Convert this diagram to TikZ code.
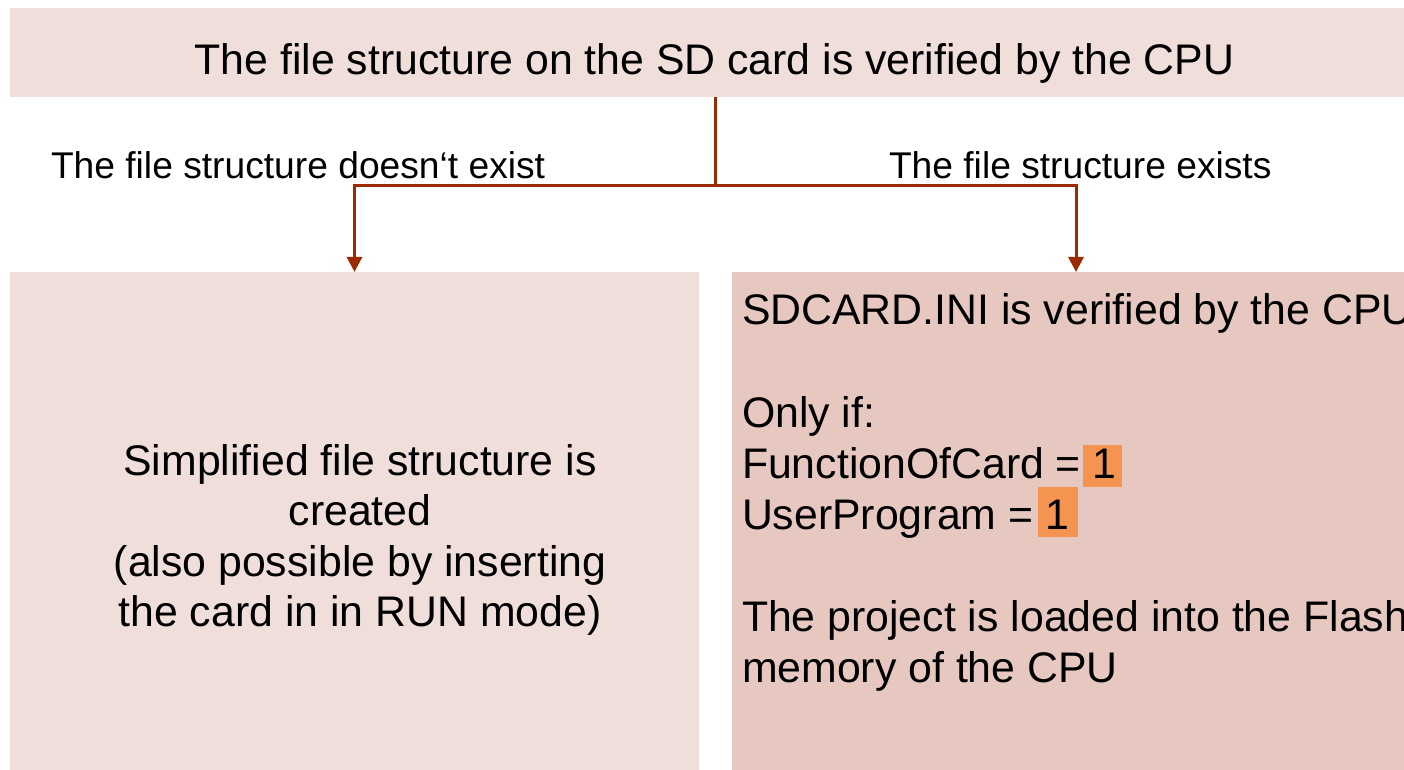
\documentclass[tikz,border=0pt]{standalone}
\usepackage{fontspec}
\setmainfont{Liberation Sans}
\usetikzlibrary{arrows.meta}
\definecolor{boxlight}{HTML}{F0DEDB}
\definecolor{boxdark}{HTML}{E6C8C0}
\definecolor{flowline}{HTML}{9C2A00}
\definecolor{hilite}{HTML}{F59350}
\newcommand{\bodyfont}{\fontsize{21.4pt}{25.3pt}\selectfont}
\newcommand{\rightfont}{\fontsize{21.4pt}{25.55pt}\selectfont}
\newcommand{\labelfont}{\fontsize{18.6pt}{22pt}\selectfont}
\begin{document}
\begin{tikzpicture}[x=0.5pt,y=-0.5pt,
  panel/.style={draw=none,inner sep=0pt,outer sep=0pt,anchor=north west},
  txt/.style={inner sep=0pt,outer sep=0pt,text=black},
  flow/.style={draw=flowline,line width=1.5pt},
  flowarrow/.style={flow,-{Triangle[length=7.5pt,width=7.5pt]}}]
\useasboundingbox (0,0) rectangle (1404,770);
\clip (0,0) rectangle (1404,770);
\fill[white] (0,0) rectangle (1404,770);
% panels
\node[panel,fill=boxlight,minimum width=705pt,minimum height=44.75pt] (top) at (10,8) {};
\node[panel,fill=boxlight,minimum width=344.5pt,minimum height=250pt] (lb) at (10,272) {};
\node[panel,fill=boxdark,minimum width=344pt,minimum height=250pt] (rb) at (732,272) {};
% highlights behind the values
\fill[hilite] (1083,445) rectangle (1122,487);
\fill[hilite] (1038,487) rectangle (1078,537);
% connectors
\coordinate (j) at (715,186);
\draw[flow] (top.south) -- (j);
\draw[flowarrow] (j) -| (lb.north);
\draw[flowarrow] (j) -| (rb.north);
% texts
\node[txt,font=\bodyfont,anchor=base] (toptext) at (714.5,75)
  {The file structure on the SD card is verified by the CPU};
\node[txt,font=\labelfont,anchor=base west] (lno) at (51,178.5)
  {The file structure doesn‘t exist};
\node[txt,font=\labelfont,anchor=base west] (lyes) at (889,178.5)
  {The file structure exists};
\node[txt,anchor=base] (ltext) at (360,475)
  {\bodyfont\begin{tabular}[t]{@{}c@{}}Simplified file structure is\\ created\\ (also possible by inserting\\ the card in in RUN mode)\end{tabular}};
\node[txt,anchor=base west] (rtext) at (742,325)
  {\rightfont\begin{tabular}[t]{@{}l@{}}SDCARD.INI is verified by the CPU\\ \\ Only if:\\ FunctionOfCard = 1\\ UserProgram = 1\\ \\ The project is loaded into the Flash\\ memory of the CPU\end{tabular}};
\end{tikzpicture}
\end{document}
